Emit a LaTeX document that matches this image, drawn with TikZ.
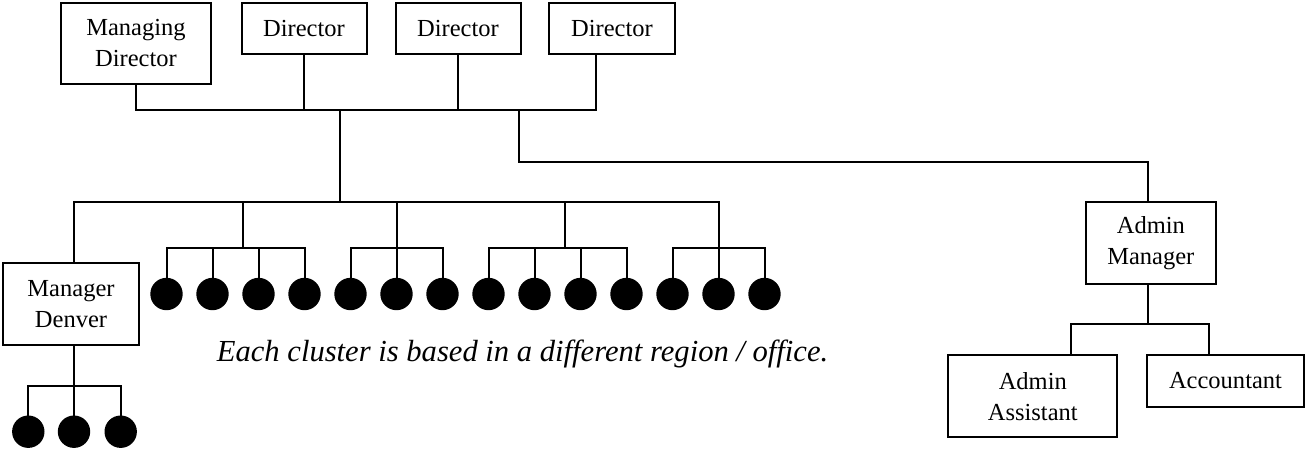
\documentclass[tikz,border=0pt]{standalone}
\usepackage{fontspec}
\setmainfont{Liberation Serif}
\begin{document}
\begin{tikzpicture}[x=1pt,y=-1pt,
  wire/.style={line width=2pt, line join=miter},
  post/.style={draw, line width=2pt, rectangle, inner sep=0pt, outer sep=0pt,
    align=center, font=\fontsize{24.5}{31}\selectfont},
  member/.style={circle, fill=black, minimum size=32.4pt, inner sep=0pt, outer sep=0pt}]
\useasboundingbox (0,0) rectangle (1305,450);

% Board
\node[post, minimum width=150pt, minimum height=81pt] (md) at (136,43.5) {Managing\\Director};
\node[post, minimum width=125pt, minimum height=51pt] (d1) at (304,28.5) {Director};
\node[post, minimum width=125pt, minimum height=51pt] (d2) at (458,28.5) {Director};
\node[post, minimum width=126pt, minimum height=51pt] (d3) at (612,28.5) {Director};

\coordinate (hub)  at (340,110);
\coordinate (ahub) at (519,110);
\coordinate (d3x)  at (596,110);
\coordinate (bus)  at (340,202);

\draw[wire] (md.south) |- (d3x) -- (d3x |- d3.south);
\draw[wire] (d1.south) -- (d1.south |- hub);
\draw[wire] (d2.south) -- (d2.south |- hub);
\draw[wire] (hub) -- (bus);

% Regional managers and team members
\node[post, minimum width=136pt, minimum height=82pt] (den) at (71,304) {Manager\\Denver};

\foreach \i in {1,...,14}
  \node[member] (m\i) at ({166.5+46*(\i-1)},294) {};

\coordinate (bl) at (74,202);
\coordinate (br) at (718.5,202);
\coordinate (gA) at (243,248);
\coordinate (gB) at (396.5,248);
\coordinate (gC) at (565,248);
\coordinate (gD) at (718.5,248);

\draw[wire] (bl |- den.north) |- (br) -- (gD);
\draw[wire] (gA |- bus) -- (gA);
\draw[wire] (gB |- bus) -- (gB);
\draw[wire] (gC |- bus) -- (gC);

\draw[wire] (m1.north) |- (gA) -| (m4.north);
\draw[wire] (m2.north) -- (m2.north |- gA);
\draw[wire] (m3.north) -- (m3.north |- gA);

\draw[wire] (m5.north) |- (gB) -| (m7.north);
\draw[wire] (m6.north) -- (gB);

\draw[wire] (m8.north) |- (gC) -| (m11.north);
\draw[wire] (m9.north) -- (m9.north |- gC);
\draw[wire] (m10.north) -- (m10.north |- gC);

\draw[wire] (m12.north) |- (gD) -| (m14.north);
\draw[wire] (m13.north) -- (gD);

% Denver team
\node[member] (e1) at (28.3,431.7) {};
\node[member] (e2) at (74,431.7) {};
\node[member] (e3) at (120.7,431.7) {};
\coordinate (dbus) at (74,385.7);
\draw[wire] (dbus |- den.south) -- (dbus);
\draw[wire] (e1.north) |- (dbus) -| (e3.north);
\draw[wire] (e2.north) -- (dbus);

\node[anchor=base west, inner sep=0pt, font=\itshape\fontsize{30.6}{36}\selectfont] (note)
  at (216.7,361.7) {Each cluster is based in a different region / office.};

% Administration
\node[post, minimum width=130.3pt, minimum height=82.3pt] (am) at (1150.85,242.85) {Admin\\Manager};
\node[post, minimum width=169pt, minimum height=82.3pt] (aa) at (1032.8,396.2) {Admin\\Assistant};
\node[post, minimum width=157.6pt, minimum height=51.7pt] (acc) at (1225.5,380.85) {Accountant};

\coordinate (abend) at (1148,162);
\coordinate (abus)  at (1148,324);
\coordinate (aal)   at (1071,324);
\coordinate (aar)   at (1209,324);

\draw[wire] (ahub) |- (abend) -- (abend |- am.north);
\draw[wire] (abus |- am.south) -- (abus);
\draw[wire] (aal |- aa.north) |- (aar) -- (aar |- acc.north);
\end{tikzpicture}
\end{document}
